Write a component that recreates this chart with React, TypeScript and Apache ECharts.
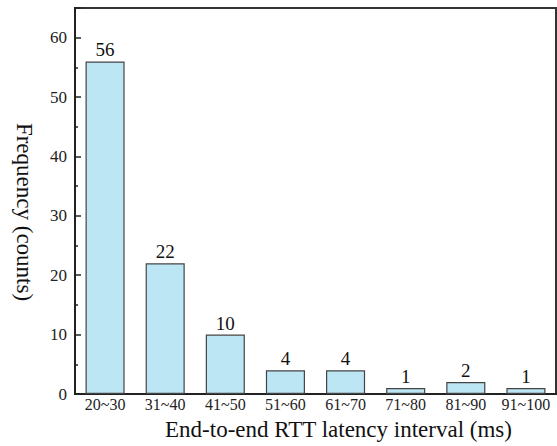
import React, { useEffect, useRef } from "react";
import * as echarts from "echarts";

const categories = ["20~30", "31~40", "41~50", "51~60", "61~70", "71~80", "81~90", "91~100"];
const counts = [56, 22, 10, 4, 4, 1, 2, 1];
const xTitle = "End-to-end RTT latency interval (ms)";
const yTitle = "Frequency (counts)";

const FONT = "'Liberation Serif', 'Times New Roman', serif";

export default function App() {
  const ref = useRef<HTMLDivElement>(null);
  useEffect(() => {
    if (!ref.current) return;
    const chart = echarts.init(ref.current, null, { renderer: "svg" });
    chart.setOption({
      animation: false,
      backgroundColor: "#ffffff",
      grid: {
        left: 75,
        right: 1,
        top: 8,
        bottom: 49,
        show: true,
        borderColor: "#333",
        borderWidth: 2,
      },
      graphic: [
        {
          type: "text",
          x: 24,
          y: 212,
          rotation: -Math.PI / 2,
          style: {
            text: yTitle,
            fontFamily: FONT,
            fontSize: 23,
            fill: "#111",
            align: "center",
            verticalAlign: "middle",
          },
        },
      ],
      xAxis: {
        type: "category",
        data: categories,
        name: xTitle,
        nameLocation: "middle",
        nameGap: 24,
        nameTextStyle: {
          fontFamily: FONT,
          fontSize: 23,
          color: "#111",
          padding: [0, 0, 0, 46],
        },
        axisLine: { lineStyle: { color: "#222", width: 2 } },
        axisTick: { show: false },
        axisLabel: { fontFamily: FONT, fontSize: 16, color: "#222", margin: 2, interval: 0 },
      },
      yAxis: {
        type: "value",
        min: 0,
        max: 65,
        interval: 10,
        axisLine: { show: true, lineStyle: { color: "#222", width: 2 } },
        axisTick: { show: true, inside: true, length: 6, lineStyle: { color: "#222", width: 1.5 } },
        minorTick: { show: true, splitNumber: 2, length: 3, lineStyle: { color: "#222", width: 1.5 } },
        splitLine: { show: false },
        axisLabel: { fontFamily: FONT, fontSize: 17, color: "#222", margin: 8, showMaxLabel: false },
      },
      series: [
        {
          type: "bar",
          data: counts,
          barWidth: "65%",
          itemStyle: { color: "#bde6f5", borderColor: "#444", borderWidth: 1.2 },
          label: {
            show: true,
            position: "top",
            distance: 2,
            fontFamily: FONT,
            fontSize: 19,
            color: "#111",
          },
        },
      ],
    });
    return () => chart.dispose();
  }, []);
  return <div ref={ref} style={{ width: 557, height: 446, position: "absolute", left: 0, top: 0 }} />;
}
